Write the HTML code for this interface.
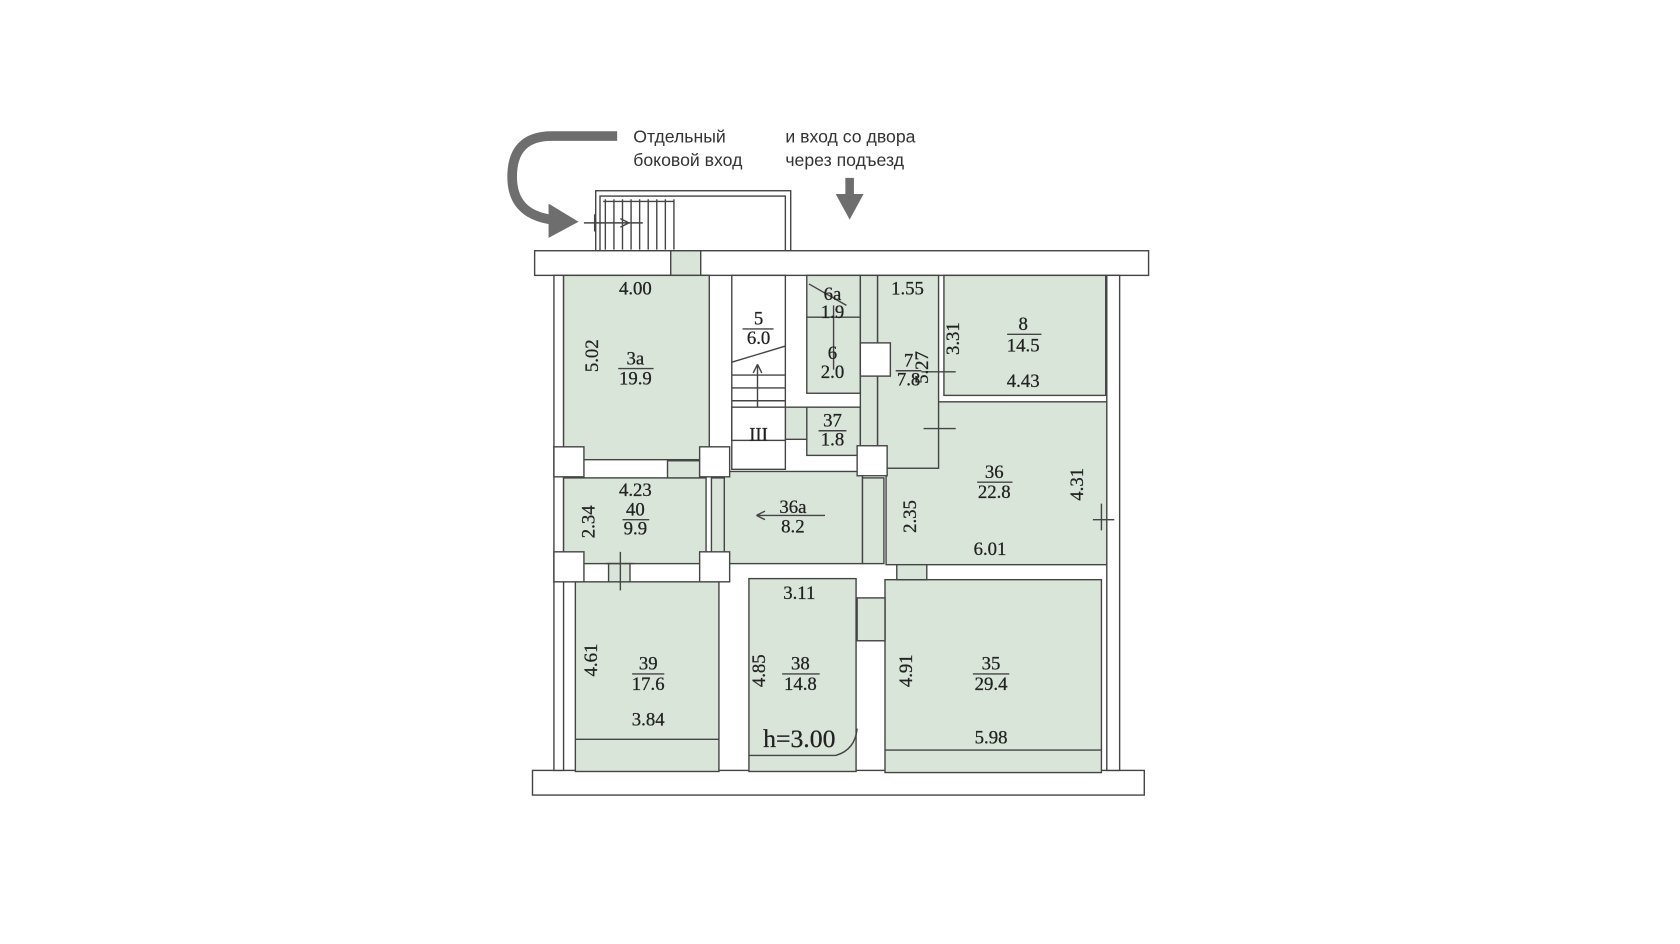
<!DOCTYPE html>
<html><head><meta charset="utf-8"><style>
html,body{margin:0;padding:0;background:#fff;width:1680px;height:944px;overflow:hidden}
svg{display:block}
.r{fill:#d9e5d9;stroke:#444;stroke-width:1.3}
.w{fill:#fff;stroke:#444;stroke-width:1.3}
.t{font-family:"Liberation Serif",serif;font-size:17.5px;fill:#222;text-anchor:middle;stroke:#222;stroke-width:0.25}
.a{font-family:"Liberation Sans","DejaVu Sans",sans-serif;font-size:16.5px;fill:#333}
.l{stroke:#444;stroke-width:1.3;fill:none}
</style></head><body>
<svg width="1680" height="944" viewBox="0 0 1568 881" preserveAspectRatio="none">
<text class="a" x="591" y="133">Отдельный</text>
<text class="a" x="591" y="155">боковой вход</text>
<text class="a" x="733" y="133">и вход со двора</text>
<text class="a" x="733" y="155">через подъезд</text>
<path d="M576,127 L515,127 Q478,127 478,165 Q478,200 515,205" fill="none" stroke="#6e6e6e" stroke-width="9"/>
<polygon points="512,190 540,207 512,222" fill="#6e6e6e"/>
<rect x="789" y="166" width="8" height="16" fill="#6e6e6e"/>
<polygon points="780,181 806,181 793,205" fill="#6e6e6e"/>
<rect class="w" x="556" y="178" width="182" height="56"/>
<rect class="w" x="560" y="183" width="173" height="51"/>
<path class="l" d="M565,186 V233 M573,186 V233 M581,186 V233 M589,186 V233 M597,186 V233 M605,186 V233 M613,186 V233 M621,186 V233 M629,186 V233 M629,188 H563 M545,208 H600 M555,200 V216 M587,208 l-8,-4 M587,208 l-8,4"/>
<rect class="w" x="499" y="234" width="573" height="23"/>
<rect class="w" x="497" y="719" width="571" height="23"/>
<rect class="w" x="517" y="257" width="9" height="462"/>
<rect class="w" x="1033" y="257" width="12" height="462"/>
<rect class="r" x="626" y="234" width="28" height="23"/>
<rect class="r" x="526" y="257" width="136" height="172"/>
<rect class="r" x="526" y="446" width="133" height="80"/>
<rect class="r" x="537" y="543" width="134" height="177"/>
<rect class="r" x="699" y="540" width="100" height="180"/>
<rect class="r" x="826" y="541" width="202" height="180"/>
<rect class="r" x="827" y="375" width="206" height="152"/>
<rect class="r" x="881" y="257" width="151" height="112"/>
<rect class="r" x="819" y="257" width="57" height="180"/>
<rect class="r" x="676" y="440" width="129" height="86"/>
<rect class="r" x="753" y="380" width="50" height="45"/>
<rect class="r" x="753" y="257" width="50" height="110"/>
<rect class="r" x="803" y="257" width="16" height="180"/>
<rect class="w" x="683" y="257" width="50" height="181"/>
<rect class="r" x="733" y="380" width="20" height="30"/>
<rect class="r" x="664" y="446" width="12" height="80"/>
<rect class="r" x="805" y="446" width="20" height="80"/>
<rect class="r" x="800" y="558" width="26" height="40"/>
<rect class="r" x="623" y="430" width="30" height="16"/>
<rect class="r" x="568" y="526" width="20" height="17"/>
<rect class="r" x="837" y="527" width="28" height="14"/>
<path class="l" d="M537,690 H671 M826,700 H1028 M699,705 H780 Q798,700 800,680"/>
<rect class="w" x="517" y="417" width="28" height="28"/>
<rect class="w" x="653" y="417" width="28" height="28"/>
<rect class="w" x="517" y="515" width="28" height="28"/>
<rect class="w" x="653" y="515" width="28" height="28"/>
<rect class="w" x="800" y="416" width="28" height="28"/>
<rect class="w" x="803" y="320" width="28" height="31"/>
<rect class="w" x="683" y="380" width="50" height="31"/>
<path class="l" d="M683,338 L733,323 M683,350 H733 M683,362 H733 M683,374 H733 M707,380 V340 M707,340 l-4,8 M707,340 l4,8 M755,265 L790,285 M753,296 H803 M778,285 V345 M579,515 V551 M565,526 H592 M860,347 H892 M862,400 H892 M1020,485 H1040 M1028,470 V495 M706,481 H770 M706,481 l8,-4 M706,481 l8,4"/>
<text class="t" x="593" y="275">4.00</text>
<text class="t" x="593" y="340">3а</text><path class="l" d="M577,344 H610"/>
<text class="t" x="593" y="359">19.9</text>
<text class="t" x="558" y="332" transform="rotate(-90 558 332)">5.02</text>
<text class="t" x="708" y="303">5</text><path class="l" d="M693,307 H722"/>
<text class="t" x="708" y="321">6.0</text>
<text class="t" x="708" y="411">III</text>
<text class="t" x="777" y="280">6а</text>
<text class="t" x="777" y="297">1.9</text>
<text class="t" x="777" y="335">6</text>
<text class="t" x="777" y="353">2.0</text>
<text class="t" x="777" y="398">37</text><path class="l" d="M764,402 H790"/>
<text class="t" x="777" y="416">1.8</text>
<text class="t" x="847" y="275">1.55</text>
<text class="t" x="848" y="342">7</text><path class="l" d="M836,346 H860"/>
<text class="t" x="848" y="360">7.8</text>
<text class="t" x="866" y="343" transform="rotate(-90 866 343)">5.27</text>
<text class="t" x="895" y="316" transform="rotate(-90 895 316)">3.31</text>
<text class="t" x="955" y="308">8</text><path class="l" d="M940,312 H972"/>
<text class="t" x="955" y="328">14.5</text>
<text class="t" x="955" y="361">4.43</text>
<text class="t" x="593" y="463">4.23</text>
<text class="t" x="593" y="481">40</text><path class="l" d="M581,485 H606"/>
<text class="t" x="593" y="499">9.9</text>
<text class="t" x="555" y="487" transform="rotate(-90 555 487)">2.34</text>
<text class="t" x="740" y="479">36а</text>
<text class="t" x="740" y="497">8.2</text>
<text class="t" x="928" y="446">36</text><path class="l" d="M912,450 H945"/>
<text class="t" x="928" y="465">22.8</text>
<text class="t" x="855" y="482" transform="rotate(-90 855 482)">2.35</text>
<text class="t" x="1011" y="452" transform="rotate(-90 1011 452)">4.31</text>
<text class="t" x="924" y="518">6.01</text>
<text class="t" x="605" y="625">39</text><path class="l" d="M590,629 H620"/>
<text class="t" x="605" y="644">17.6</text>
<text class="t" x="557" y="616" transform="rotate(-90 557 616)">4.61</text>
<text class="t" x="605" y="677">3.84</text>
<text class="t" x="746" y="559">3.11</text>
<text class="t" x="747" y="625">38</text><path class="l" d="M730,629 H765"/>
<text class="t" x="747" y="644">14.8</text>
<text class="t" x="714" y="626" transform="rotate(-90 714 626)">4.85</text>
<text class="t" x="746" y="697" style="font-size:24px">h=3.00</text>
<text class="t" x="925" y="625">35</text><path class="l" d="M908,629 H942"/>
<text class="t" x="925" y="644">29.4</text>
<text class="t" x="851" y="626" transform="rotate(-90 851 626)">4.91</text>
<text class="t" x="925" y="694">5.98</text>
</svg>
</body></html>
